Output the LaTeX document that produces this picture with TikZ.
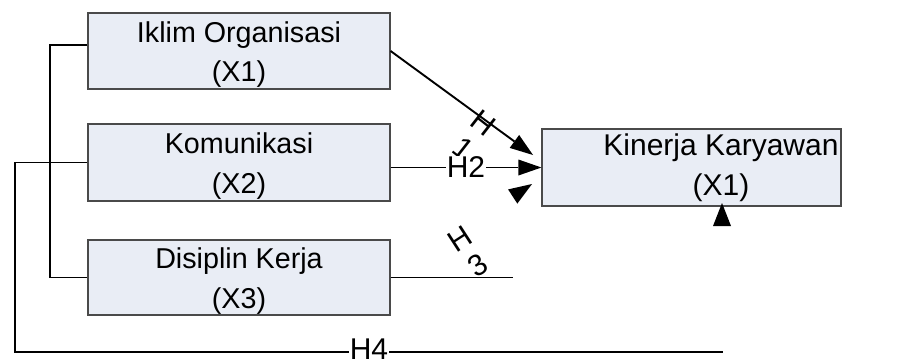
\documentclass[tikz,border=0pt]{standalone}
\usepackage{fontspec}
\setmainfont{Liberation Sans}
\usetikzlibrary{arrows.meta}
\definecolor{boxfill}{HTML}{E9EDF5}
\definecolor{boxline}{HTML}{4A4A4A}

\begin{document}
\begin{tikzpicture}[x=1pt,y=-1pt,
  varbox/.style={rectangle, draw=boxline, line width=1.2pt, fill=boxfill,
    minimum width=302pt, minimum height=76pt, inner sep=0pt, align=center,
    font=\fontsize{28.7}{39.5}\selectfont},
  boxtext/.style={inner sep=0pt, align=center, font=\fontsize{30}{40}\selectfont},
  conn/.style={line width=1.9pt, black},
  arrowed/.style={conn, -{Triangle[length=23pt,width=16pt,line width=0pt]}},
  hlab/.style={inner sep=0.6pt, align=center, font=\fontsize{30}{32}\selectfont},
  head/.style={fill=black}
]
\useasboundingbox (0,0) rectangle (899,360);

% independent variables
\node[varbox] (x1) at (239,51)    {\rule{0pt}{27.5pt}Iklim Organisasi\\(X1)};
\node[varbox, minimum height=77pt] (x2) at (239,162.5) {\rule{0pt}{27.5pt}Komunikasi\\(X2)};
\node[varbox, minimum height=75pt] (x3) at (239,277.5) {\rule{0pt}{27.5pt}Disiplin Kerja\\(X3)};

% dependent variable
\node[varbox, minimum width=299pt, minimum height=77pt] (kin) at (691.5,167.5) {};
\node[boxtext] (kinT) at (721,164.5) {\rule{0pt}{27.5pt}Kinerja Karyawan\\(X1)};

% helper points
\coordinate (bt)     at (50,45);
\coordinate (bb)     at (50,277.5);
\coordinate (h1tip)  at (533,155);
\coordinate (h3end)  at (513,277.5);
\coordinate (h4a)    at (15,352);
\coordinate (h4end)  at (723,352);

% bracket joining X1, X2 and X3
\draw[conn] (x1.west |- bt) -- (bt) -- (bb) -- (x3.west);

% H1
\draw[arrowed] (x1.east) -- (h1tip);
\node[hlab, rotate=-38] (h1lab) at (473.5,136) {H\\1};

% H2
\draw[arrowed] (x2.east |- kin.west) -- node[hlab, fill=white] (h2lab) {H2} (kin.west);

% H3
\draw[conn] (x3.east) -- (h3end);
\node[hlab, rotate=33] (h3lab) at (469,252) {H\\3};
\fill[head] (532,184) -- (508.1,189.4) -- (517.3,203.6) -- cycle;

% H4
\draw[conn] (x2.west) -| (h4a) -- node[hlab, fill=white, yshift=3pt] (h4lab) {H4} (h4end);
\fill[head] (722,203) -- (731,226) -- (713,226) -- cycle;
\end{tikzpicture}
\end{document}
